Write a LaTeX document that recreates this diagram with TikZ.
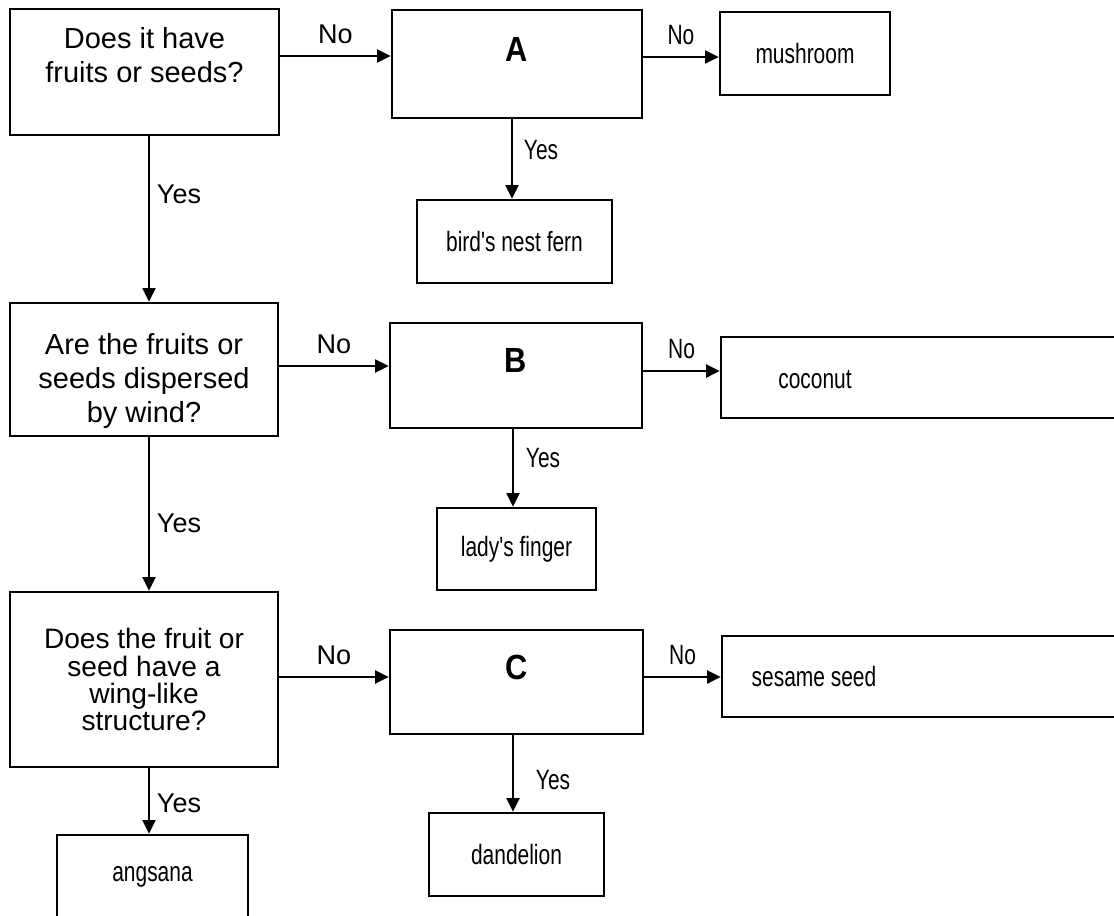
\documentclass[tikz,border=0pt]{standalone}
\usepackage{fontspec}
\setmainfont{Liberation Sans}
\newfontfamily\narrowfont[FakeStretch=0.75]{Liberation Sans}
\newfontfamily\letterfont[FakeStretch=0.88]{Liberation Sans}
\usetikzlibrary{arrows.meta}

\tikzset{
	question/.style={draw, line width=1.5pt, align=center, inner sep=0pt, font=\fontsize{16.5}{19.35}\selectfont},
	letterbox/.style={draw, line width=1.5pt, align=center, inner sep=0pt, font=\letterfont\bfseries\fontsize{19.9}{17.1}\selectfont},
	answer/.style={draw, line width=1.5pt, inner sep=0pt, font=\narrowfont\fontsize{15.9}{18}\selectfont},
	arr/.style={-{Triangle[length=0.27cm,width=0.26cm]}, line width=1.1pt},
	lbl/.style={inner sep=0pt, font=\fontsize{15.4}{18}\selectfont},
	nlbl/.style={inner sep=0pt, font=\narrowfont\fontsize{15.9}{18}\selectfont},
}

\begin{document}
\begin{tikzpicture}[x=0.02cm, y=-0.02cm]
	\clip (0,0) rectangle (1114,915);
	% Define nodes
	\node[question, minimum width=5.38cm, minimum height=2.52cm] (q1) at (144.5,72) {Does it have\\fruits or seeds?\\\mbox{}};
	\node[question, minimum width=5.36cm, minimum height=2.66cm] (q2) at (144,369.5) {\rule{0pt}{0.9cm}Are the fruits or\\seeds dispersed\\by wind?};
	\node[question, minimum width=5.36cm, minimum height=3.5cm, font=\fontsize{16}{15.4}\selectfont] (q3) at (144,679.5) {Does the fruit or\\seed have a\\wing-like\\structure?};
	\node[letterbox, minimum width=5cm, minimum height=2.16cm] (boxA) at (517,64) {A\\\mbox{}};
	\node[letterbox, minimum width=5.04cm, minimum height=2.1cm] (boxB) at (516,375.5) {B\\\mbox{}};
	\node[letterbox, minimum width=5.06cm, minimum height=2.08cm] (boxC) at (516.5,682) {C\\\mbox{}};
	\node[answer, minimum width=3.4cm, minimum height=1.66cm] (mushroom) at (805,53.5) {mushroom};
	\node[answer, minimum width=3.9cm, minimum height=1.66cm] (fern) at (514.5,241.5) {bird's nest fern};
	\node[answer, minimum width=8.08cm, minimum height=1.62cm] (coconut) at (923,377.5) {};
	\node[answer, draw=none] (coconuttext) at (815,380) {coconut};
	\node[answer, minimum width=3.18cm, minimum height=1.64cm] (lady) at (516.5,549) {lady's finger};
	\node[answer, minimum width=8.06cm, minimum height=1.62cm] (sesame) at (923.5,676.5) {};
	\node[answer, draw=none] (sesametext) at (814,677) {sesame seed};
	\node[answer, minimum width=3.5cm, minimum height=1.66cm] (dandelion) at (516.5,854.5) {dandelion};
	\node[answer, minimum width=3.82cm, minimum height=1.66cm] (angsana) at (152.5,876.5) {angsana};

	% Connect the nodes
	\draw[arr] ([yshift=0.32cm]q1.east) -- ([yshift=0.32cm]q1.east -| boxA.west) node[lbl, midway, above=0.22cm] {No};
	\draw[arr] ([yshift=0.14cm]boxA.east) -- ([yshift=0.14cm]boxA.east -| mushroom.west) node[nlbl, midway, above=0.22cm] {No};
	\draw[arr] ([yshift=0.07cm]q2.east) -- ([yshift=0.07cm]q2.east -| boxB.west) node[lbl, midway, above=0.22cm] {No};
	\draw[arr] ([yshift=0.09cm]boxB.east) -- ([yshift=0.09cm]boxB.east -| coconut.west) node[nlbl, midway, above=0.22cm] {No};
	\draw[arr] ([yshift=0.05cm]q3.east) -- ([yshift=0.05cm]q3.east -| boxC.west) node[lbl, midway, above=0.22cm] {No};
	\draw[arr] ([yshift=0.1cm]boxC.east) -- ([yshift=0.1cm]boxC.east -| sesame.west) node[nlbl, midway, above=0.22cm] {No};

	\draw[arr] ([xshift=0.09cm]q1.south) -- ([xshift=0.09cm]q1.south |- q2.north) node[lbl, pos=0.35, right=0.14cm] {Yes};
	\draw[arr] ([xshift=0.1cm]q2.south) -- ([xshift=0.1cm]q2.south |- q3.north) node[lbl, pos=0.56, right=0.14cm] {Yes};
	\draw[arr] ([xshift=0.1cm]q3.south) -- ([xshift=0.1cm]q3.south |- angsana.north) node[lbl, pos=0.53, right=0.14cm] {Yes};
	\draw[arr] ([xshift=-0.1cm]boxA.south) -- ([xshift=-0.1cm]boxA.south |- fern.north) node[nlbl, pos=0.39, right=0.22cm] {Yes};
	\draw[arr] ([xshift=-0.06cm]boxB.south) -- ([xshift=-0.06cm]boxB.south |- lady.north) node[nlbl, pos=0.375, right=0.24cm] {Yes};
	\draw[arr] ([xshift=-0.07cm]boxC.south) -- ([xshift=-0.07cm]boxC.south |- dandelion.north) node[nlbl, pos=0.58, right=0.44cm] {Yes};
\end{tikzpicture}
\end{document}
